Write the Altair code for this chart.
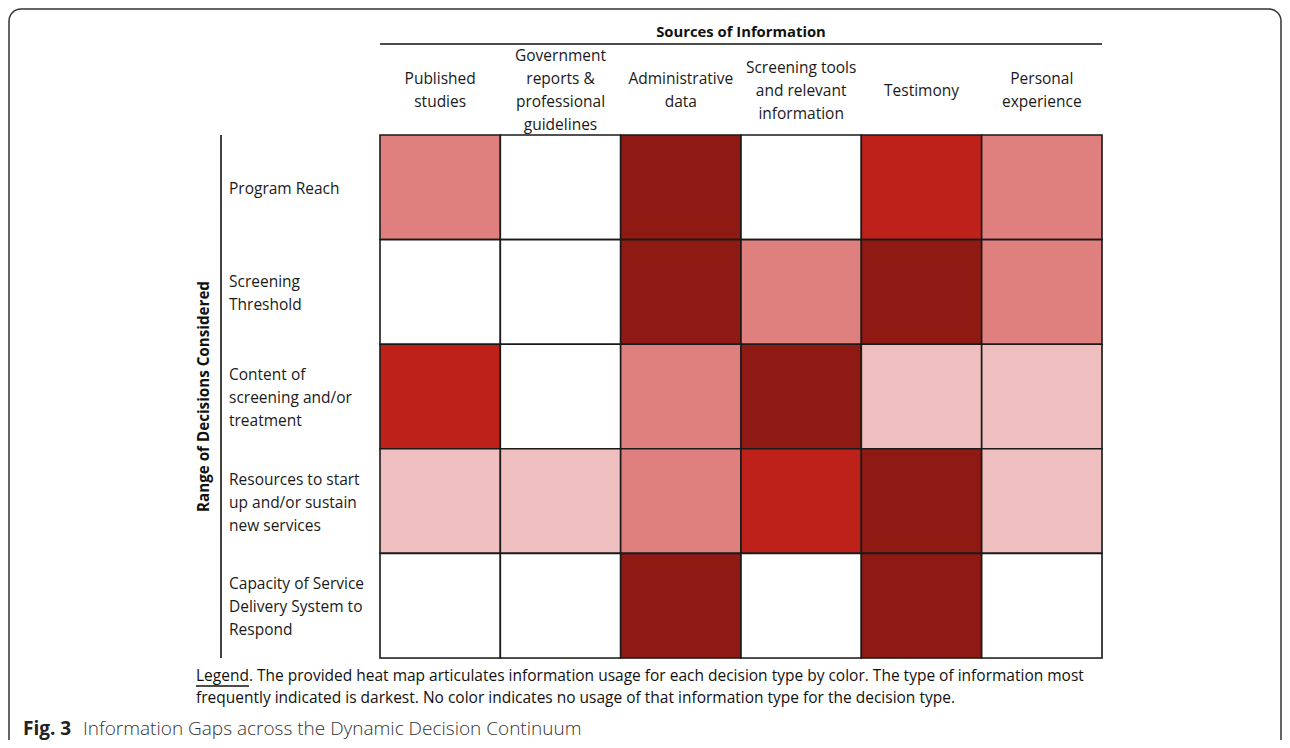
import altair as alt
import pandas as pd

# ---- data ----
sources = [
    "Published studies",
    "Government reports & professional guidelines",
    "Administrative data",
    "Screening tools and relevant information",
    "Testimony",
    "Personal experience",
]
source_labels = [
    "Published|studies",
    "Government|reports &|professional|guidelines",
    "Administrative|data",
    "Screening tools|and relevant|information",
    "Testimony",
    "Personal|experience",
]
decisions = [
    "Program Reach",
    "Screening Threshold",
    "Content of screening and/or treatment",
    "Resources to start up and/or sustain new services",
    "Capacity of Service Delivery System to Respond",
]
decision_labels = [
    "Program Reach",
    "Screening|Threshold",
    "Content of|screening and/or|treatment",
    "Resources to start|up and/or sustain|new services",
    "Capacity of Service|Delivery System to|Respond",
]
# usage level: 0 = none (white) ... 4 = most frequent (darkest)
levels = [
    [2, 0, 4, 0, 3, 2],
    [0, 0, 4, 2, 4, 2],
    [3, 0, 2, 4, 1, 1],
    [1, 1, 2, 3, 4, 1],
    [0, 0, 4, 0, 4, 0],
]
level_colors = ["#ffffff", "#efbfbf", "#df807e", "#be211a", "#8e1a13"]

col_title = "Sources of Information"
row_title = "Range of Decisions Considered"
legend_text = ("Legend. The provided heat map articulates information usage for each decision type by color. "
               "The type of information most|frequently indicated is darkest. No color indicates no usage of "
               "that information type for the decision type.")
fig_bold = "Fig. 3"
fig_text = "Information Gaps across the Dynamic Decision Continuum"

# ---- tables ----
LH = 23  # line height of the multi-line labels


def explode(keys, labels, keyname):
    rows = []
    for k, lab in zip(keys, labels):
        parts = lab.split("|")
        n = len(parts)
        for i, p in enumerate(parts):
            rows.append({keyname: k, "line": p, "off": (i - (n - 1) / 2) * LH})
    return pd.DataFrame(rows)


cells = pd.DataFrame(
    [{"decision": d, "source": s, "level": levels[i][j]}
     for i, d in enumerate(decisions) for j, s in enumerate(sources)]
)
col_df = explode(sources, source_labels, "source")
row_df = explode(decisions, decision_labels, "decision")

W, H = 722, 523
FONT = "Open Sans"
LFS = 15.5

xs = alt.X("source:N", sort=sources, axis=None,
           scale=alt.Scale(domain=sources, paddingInner=0, paddingOuter=0))
ys = alt.Y("decision:N", sort=decisions, axis=None,
           scale=alt.Scale(domain=decisions, paddingInner=0, paddingOuter=0))

heat = alt.Chart(cells).mark_rect(stroke="#1a1a1a", strokeWidth=1.6).encode(
    x=xs, y=ys,
    color=alt.Color("level:O", legend=None,
                    scale=alt.Scale(domain=[0, 1, 2, 3, 4], range=level_colors)),
)

layers = []
for off in sorted(set(col_df["off"])):
    layers.append(
        alt.Chart(col_df).transform_filter(alt.datum.off == off).mark_text(
            font=FONT, fontSize=LFS, align="center", baseline="middle",
            color="#1a1a1a", dy=off + 1,
        ).encode(x=xs, y=alt.value(-45.5), text="line:N")
    )
for off in sorted(set(row_df["off"])):
    layers.append(
        alt.Chart(row_df).transform_filter(alt.datum.off == off).mark_text(
            font=FONT, fontSize=LFS, align="left", baseline="middle",
            color="#1a1a1a", dy=off + 1.5,
        ).encode(y=ys, x=alt.value(-151), text="line:N")
    )

one = pd.DataFrame({"t": [0]})

top_title = alt.Chart(one).mark_text(
    font=FONT, fontSize=14.8, fontWeight="bold", align="center", baseline="middle", color="#111"
).encode(x=alt.value(W / 2), y=alt.value(-102), text=alt.value(col_title))

top_line = alt.Chart(one).mark_rule(color="#111", strokeWidth=1.6).encode(
    x=alt.value(0), x2=alt.value(W), y=alt.value(-91))

side_line = alt.Chart(one).mark_rule(color="#111", strokeWidth=1.6).encode(
    x=alt.value(-159), y=alt.value(0), y2=alt.value(H))

side_title = alt.Chart(one).mark_text(
    font=FONT, fontSize=15.2, fontWeight="bold", angle=270, align="center", baseline="middle", color="#111"
).encode(x=alt.value(-176), y=alt.value(H / 2), text=alt.value(row_title))

legend = alt.Chart(one).mark_text(
    font=FONT, fontSize=15.5, lineBreak="|", lineHeight=22, align="left", baseline="middle", color="#111"
).encode(x=alt.value(-184), y=alt.value(541), text=alt.value(legend_text))

legend_ul = alt.Chart(one).mark_rule(color="#111", strokeWidth=1.3).encode(
    x=alt.value(-184), x2=alt.value(-131), y=alt.value(551))

fig1 = alt.Chart(one).mark_text(
    font=FONT, fontSize=19, fontWeight="bold", align="left", baseline="alphabetic", color="#222"
).encode(x=alt.value(-357), y=alt.value(600), text=alt.value(fig_bold))

fig2 = alt.Chart(one).mark_text(
    font=FONT, fontSize=19, fontWeight=300, align="left", baseline="alphabetic", color="#333"
).encode(x=alt.value(-297), y=alt.value(600), text=alt.value(fig_text))

frame = alt.Chart(one).mark_rect(
    fill="transparent", stroke="#333", strokeWidth=1.5, cornerRadius=12
).encode(x=alt.value(-371), x2=alt.value(901), y=alt.value(-126), y2=alt.value(660))

chart = alt.layer(
    frame, heat, *layers, top_title, top_line, side_line, side_title,
    legend, legend_ul, fig1, fig2,
).properties(
    width=W, height=H,
    autosize=alt.AutoSizeParams(type="none"),
    padding={"left": 372, "top": 127, "right": 180, "bottom": 82},
).configure_view(stroke=None).configure(background="white")

chart.save("out.html", embed_options={"renderer": "svg", "actions": False})
